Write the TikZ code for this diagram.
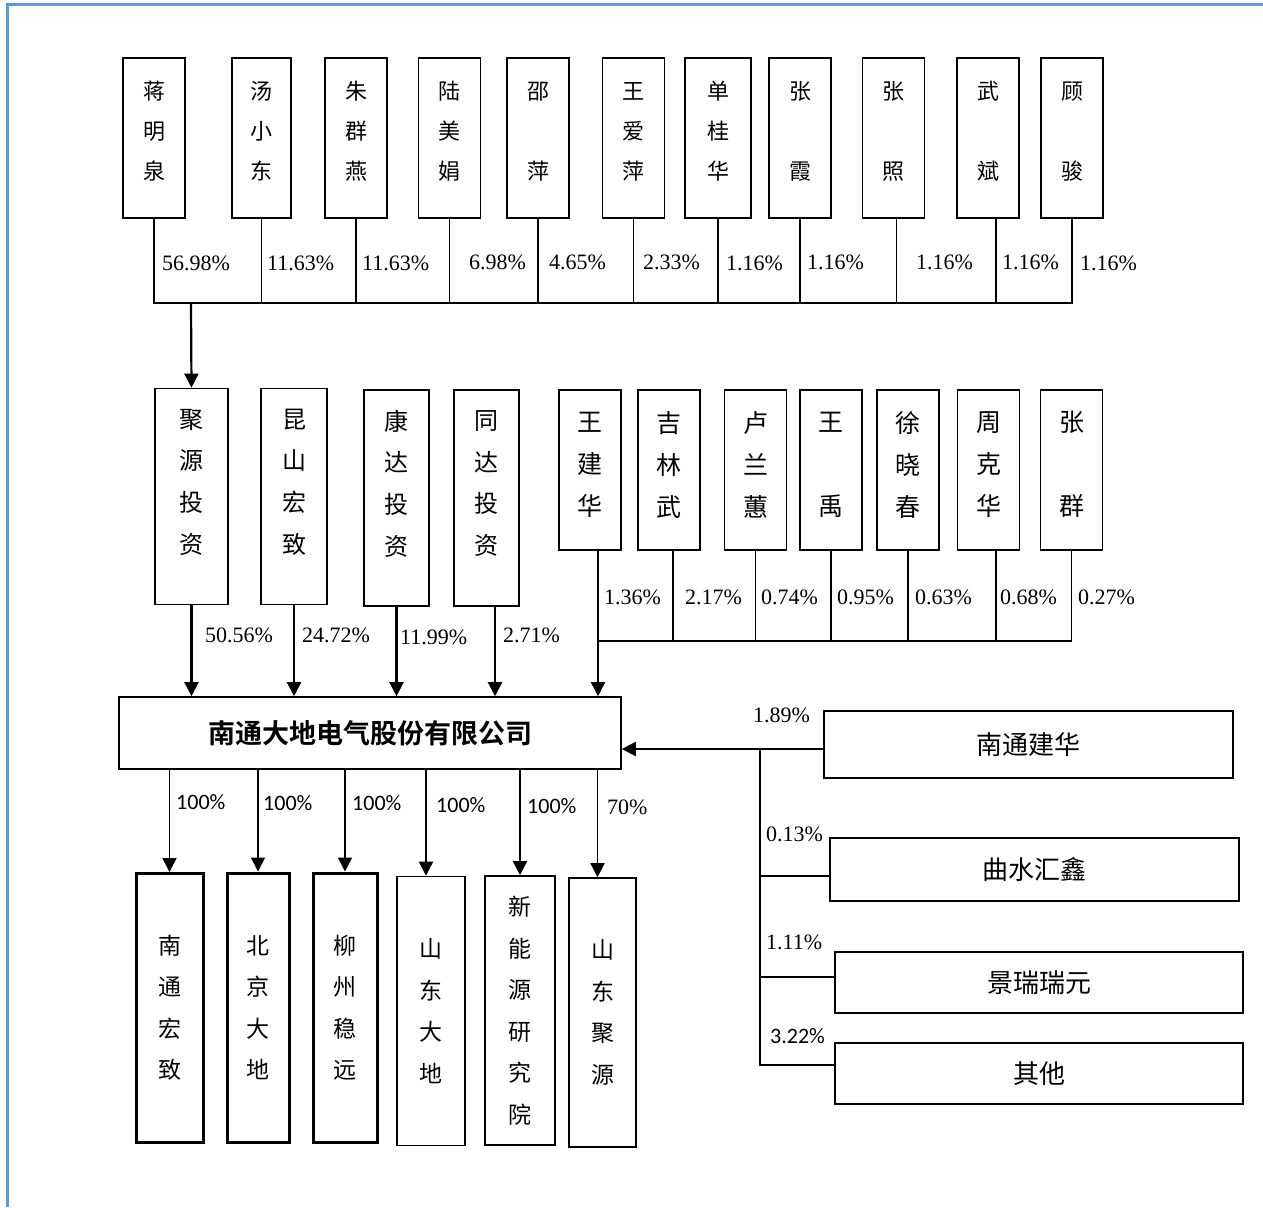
\documentclass[tikz,border=0pt]{standalone}
\usepackage{fontspec}
\newfontfamily\cjk{Noto Sans CJK SC}[BoldFont={* Bold}]
\newfontfamily\serifnum{Liberation Serif}
\newfontfamily\sansnum{Carlito}
\usetikzlibrary{arrows.meta}
\newcommand\dropby[1]{\rule[-#1]{0pt}{#1}}
\definecolor{framebl}{RGB}{91,155,213}

\begin{document}
\begin{tikzpicture}[x=1pt,y=-1pt,
  >={Triangle[length=14pt,width=14pt]},
  box/.style={draw,line width=1.6pt,inner sep=0pt,align=center},
  topname/.style={box,minimum width=62pt,minimum height=160pt,font=\cjk\fontsize{22}{40}\selectfont,execute at end node=\dropby{15pt}},
  midname/.style={box,minimum width=66pt,minimum height=216pt,font=\cjk\fontsize{24}{41.7}\selectfont,execute at end node=\dropby{31pt}},
  rightname/.style={box,minimum width=62pt,minimum height=160pt,font=\cjk\fontsize{25}{42}\selectfont,execute at end node=\dropby{13pt}},
  subbox/.style={box,minimum height=269pt,font=\cjk\fontsize{23}{41.5}\selectfont},
  holder/.style={box,minimum width=409pt,font=\cjk\fontsize{26}{30}\selectfont},
  pct/.style={anchor=west,inner sep=0pt,font=\serifnum\fontsize{22}{24}\selectfont},
  pcts/.style={anchor=west,inner sep=0pt,font=\sansnum\fontsize{22}{24}\selectfont},
  link/.style={line width=1.6pt},
  feed/.style={line width=2.2pt,->}]
\useasboundingbox (0,0) rectangle (1263,1207);
\draw[framebl,line width=3pt] (7,1207) -- (7,5) -- (1263,5);

% shareholders of Juyuan
\node[topname] (jmq) at (154,138) {蒋\\明\\泉};
\node[topname,minimum width=59pt] (txd) at (261.5,138) {汤\\小\\东};
\node[topname] (zqy) at (356,138) {朱\\群\\燕};
\node[topname] (lmj) at (449.5,138) {陆\\美\\娟};
\node[topname] (sp) at (538,138) {邵\\\mbox{}\\萍};
\node[topname] (wap) at (633.5,138) {王\\爱\\萍};
\node[topname,minimum width=66pt] (sgh) at (718,138) {单\\桂\\华};
\node[topname] (zx) at (800,138) {张\\\mbox{}\\霞};
\node[topname] (zz) at (893.5,138) {张\\\mbox{}\\照};
\node[topname] (wb) at (988,138) {武\\\mbox{}\\斌};
\node[topname] (gj) at (1072,138) {顾\\\mbox{}\\骏};

\coordinate (topbus) at (191,303);
\draw[link] (jmq.south) |- (gj.south |- topbus) -- (gj.south);
\draw[link] (txd.south) -- (txd.south |- topbus);
\draw[link] (zqy.south) -- (zqy.south |- topbus);
\draw[link] (lmj.south) -- (lmj.south |- topbus);
\draw[link] (sp.south) -- (sp.south |- topbus);
\draw[link] (wap.south) -- (wap.south |- topbus);
\draw[link] (sgh.south) -- (sgh.south |- topbus);
\draw[link] (zx.south) -- (zx.south |- topbus);
\draw[link] ([xshift=3pt]zz.south) -- ([xshift=3pt]zz.south |- topbus);
\draw[link] ([xshift=8pt]wb.south) -- ([xshift=8pt]wb.south |- topbus);
\draw[line width=2.6pt] (topbus) -- (zx.south |- topbus);

\node[pct] (pjmq) at (162,263) {56.98\%};
\node[pct] (ptxd) at (267,263) {11.63\%};
\node[pct] (pzqy) at (362,263) {11.63\%};
\node[pct] (plmj) at (469,262) {6.98\%};
\node[pct] (psp) at (549,262) {4.65\%};
\node[pct] (pwap) at (643,262) {2.33\%};
\node[pct] (psgh) at (726,263) {1.16\%};
\node[pct] (pzx) at (807,262) {1.16\%};
\node[pct] (pzz) at (916,262) {1.16\%};
\node[pct] (pwb) at (1002,262) {1.16\%};
\node[pct] (pgj) at (1080,263) {1.16\%};

% direct shareholders
\node[midname,minimum width=73pt] (jytz) at (191.5,496.5) {聚\\源\\投\\资};
\node[midname] (kshz) at (294,496.5) {昆\\山\\宏\\致};
\node[midname,minimum width=65pt] (kdtz) at (396.5,498) {康\\达\\投\\资};
\node[midname,minimum width=65pt] (tdtz) at (486.5,498) {同\\达\\投\\资};
\draw[feed] (topbus) -- (jytz.north);

\node[rightname] (wjh) at (590,470) {王\\建\\华};
\node[rightname] (jlw) at (669,470) {吉\\林\\武};
\node[rightname] (llh) at (755.5,470) {卢\\兰\\蕙};
\node[rightname] (wyu) at (831,470) {王\\\mbox{}\\禹};
\node[rightname] (xxc) at (908,470) {徐\\晓\\春};
\node[rightname] (zkh) at (988.5,470) {周\\克\\华};
\node[rightname] (zqn) at (1071.5,470) {张\\\mbox{}\\群};

% issuer
\node[box,minimum width=502pt,minimum height=72pt,font=\cjk\bfseries\fontsize{27}{30}\selectfont] (ntdd) at (370,733) {南通大地电气股份有限公司};

\draw[feed] (jytz.south) -- (jytz.south |- ntdd.north);
\draw[feed] (kshz.south) -- (kshz.south |- ntdd.north);
\draw[feed] (kdtz.south) -- (kdtz.south |- ntdd.north);
\draw[feed] ([xshift=8.5pt]tdtz.south) -- ([xshift=8.5pt]tdtz.south |- ntdd.north);
\node[pct] (pjytz) at (205,635) {50.56\%};
\node[pct] (pkshz) at (302,635) {24.72\%};
\node[pct] (pkdtz) at (400,637) {11.99\%};
\node[pct] (ptdtz) at (503,635) {2.71\%};

\coordinate (midbus) at (598,641);
\draw[link,->] ([xshift=8pt]wjh.south) -- ([xshift=8pt]wjh.south |- ntdd.north);
\draw[link] (midbus) -- (zqn.south |- midbus) -- (zqn.south);
\draw[link] ([xshift=4pt]jlw.south) -- ([xshift=4pt]jlw.south |- midbus);
\draw[link] (llh.south) -- (llh.south |- midbus);
\draw[link] (wyu.south) -- (wyu.south |- midbus);
\draw[link] (xxc.south) -- (xxc.south |- midbus);
\draw[link] ([xshift=7.5pt]zkh.south) -- ([xshift=7.5pt]zkh.south |- midbus);
\node[pct] (pwjh) at (604,597) {1.36\%};
\node[pct] (pjlw) at (685,597) {2.17\%};
\node[pct] (pllh) at (761,597) {0.74\%};
\node[pct] (pwyu) at (837,597) {0.95\%};
\node[pct] (pxxc) at (915,597) {0.63\%};
\node[pct] (pzkh) at (1000,597) {0.68\%};
\node[pct] (pzqn) at (1078,597) {0.27\%};

% subsidiaries
\node[subbox,line width=3pt,minimum width=67pt] (ntgz) at (169.5,1008) {南\\通\\宏\\致};
\node[subbox,line width=3pt,minimum width=62pt] (bjdd) at (258,1007.5) {北\\京\\大\\地};
\node[subbox,line width=3pt,minimum width=64pt] (lzwy) at (345,1007.5) {柳\\州\\稳\\远};
\node[subbox,minimum width=68pt] (sddd) at (431,1011) {山\\东\\大\\地};
\node[subbox,minimum width=70pt] (xnyy) at (520,1010.5) {新\\能\\源\\研\\究\\院};
\node[subbox,minimum width=67pt] (sdjy) at (602.5,1012.5) {山\\东\\聚\\源};

\draw[link,->] (ntgz.north |- ntdd.south) -- (ntgz.north);
\draw[link,->] (bjdd.north |- ntdd.south) -- (bjdd.north);
\draw[link,->] (lzwy.north |- ntdd.south) -- (lzwy.north);
\draw[link,->] ([xshift=-5pt]sddd.north |- ntdd.south) -- ([xshift=-5pt]sddd.north);
\draw[link,->] (xnyy.north |- ntdd.south) -- (xnyy.north);
\draw[link,->] ([xshift=-5pt]sdjy.north |- ntdd.south) -- ([xshift=-5pt]sdjy.north);
\node[pcts] (pntgz) at (176,802) {100\%};
\node[pcts] (pbjdd) at (263,803) {100\%};
\node[pcts] (plzwy) at (352,803) {100\%};
\node[pcts] (psddd) at (436,805) {100\%};
\node[pcts] (pxnyy) at (527,806) {100\%};
\node[pct] (psdjy) at (607,807) {70\%};

% other holders
\node[holder,minimum height=67pt] (ntjh) at (1028.5,744.5) {南通建华};
\node[holder,minimum height=63pt] (qshx) at (1034.5,869.5) {曲水汇鑫};
\node[holder,minimum width=408pt,minimum height=61pt] (jrry) at (1039,982.5) {景瑞瑞元};
\node[holder,minimum width=408pt,minimum height=61pt] (qita) at (1039,1073.5) {其他};

\coordinate (trunk) at (760,749);
\draw[link] (ntjh.west |- trunk) -- (trunk);
\draw[feed] (trunk) -- (ntdd.east |- trunk);
\draw[link] (trunk) |- ([yshift=8.5pt]qita.west);
\draw[link] ([yshift=-6.5pt]qshx.west -| trunk) -- ([yshift=-6.5pt]qshx.west);
\draw[link] ([yshift=5.5pt]jrry.west -| trunk) -- ([yshift=5.5pt]jrry.west);
\node[pct] (pntjh) at (753,715) {1.89\%};
\node[pct] (pqshx) at (766,834) {0.13\%};
\node[pct] (pjrry) at (766,942) {1.11\%};
\node[pcts] (pqita) at (770,1036) {3.22\%};
\end{tikzpicture}
\end{document}
